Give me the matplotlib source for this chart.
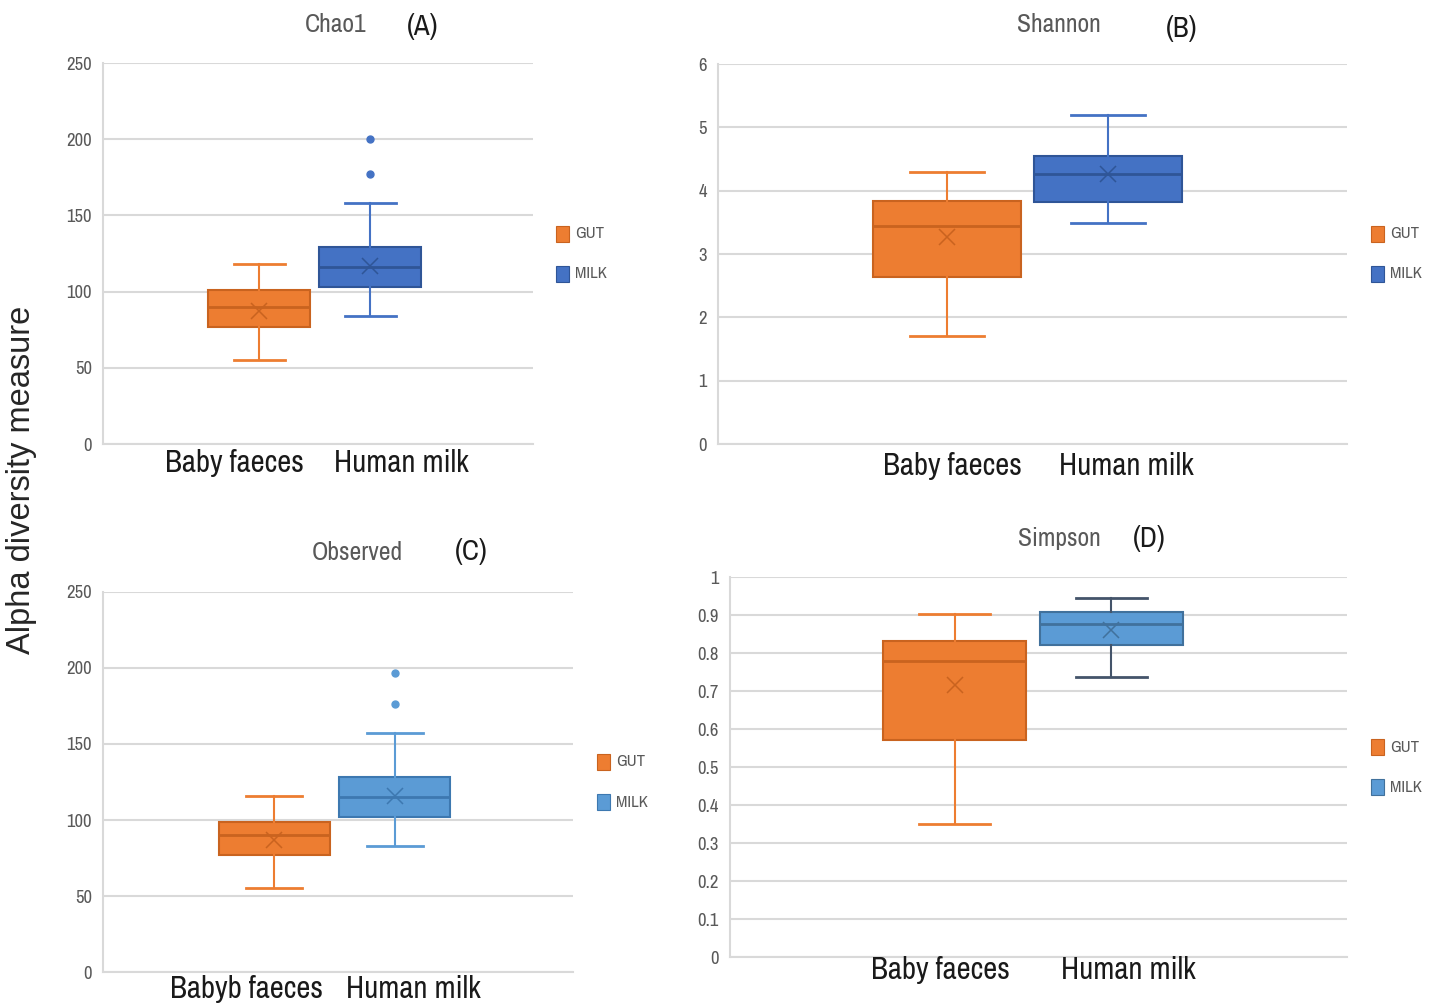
import matplotlib
matplotlib.use("Agg")
import matplotlib.pyplot as plt
from matplotlib import font_manager
from matplotlib.patches import Rectangle

W, H = 1438, 1005

# ---- data ----
series = ["GUT", "MILK"]

chao1_q1 = [77, 103]
chao1_med = [90, 116]
chao1_q3 = [101, 129]
chao1_lo = [55, 84]
chao1_hi = [118, 158]
chao1_mean = [87, 116.5]
chao1_fliers = [[], [177, 200]]

shannon_q1 = [2.63, 3.82]
shannon_med = [3.44, 4.26]
shannon_q3 = [3.84, 4.55]
shannon_lo = [1.71, 3.49]
shannon_hi = [4.30, 5.20]
shannon_mean = [3.27, 4.26]
shannon_fliers = [[], []]

observed_q1 = [77, 102]
observed_med = [90, 115]
observed_q3 = [99, 128]
observed_lo = [55, 83]
observed_hi = [116, 157]
observed_mean = [87, 116]
observed_fliers = [[], [176, 197]]

simpson_q1 = [0.57, 0.82]
simpson_med = [0.78, 0.876]
simpson_q3 = [0.832, 0.908]
simpson_lo = [0.35, 0.737]
simpson_hi = [0.903, 0.945]
simpson_mean = [0.716, 0.86]
simpson_fliers = [[], []]

chao1_ticks = [0, 50, 100, 150, 200, 250]
shannon_ticks = [0, 1, 2, 3, 4, 5, 6]
simpson_ticks = [0, 0.1, 0.2, 0.3, 0.4, 0.5, 0.6, 0.7, 0.8, 0.9, 1]
simpson_ticklabels = ["0", "0.1", "0.2", "0.3", "0.4", "0.5", "0.6", "0.7", "0.8", "0.9", "1"]

ORANGE = "#ED7D31"
ORANGE_D = "#C9631F"
BLUE = "#4472C4"
BLUE_D = "#2F5597"
LBLUE = "#5B9BD5"
LBLUE_D = "#3D78B0"
GRID = "#D9D9D9"
TICKC = "#595959"

# pick a narrow face if one is around, else Arial-like Liberation Sans
names = sorted({f.name for f in font_manager.fontManager.ttflist})
narrow = [n for n in names if "Narrow" in n or "Condensed" in n]
FONT = [narrow[0]] if narrow else []
FONT += ["Liberation Sans", "DejaVu Sans"]
SCALE = 1.12 if narrow else 1.0

fig = plt.figure(figsize=(W / 100, H / 100), dpi=100)


def px_axes(x0, y0, x1, y1):
    # pixel box (top-left origin) -> figure fraction
    return fig.add_axes([x0 / W, 1 - y1 / H, (x1 - x0) / W, (y1 - y0) / H])


def panel(rect, q1, med, q3, lo, hi, mean, fliers, ticks, ticklabels,
          colors, edges, whisk, centers, bw, title, letter, title_xy, letter_xy,
          cats, cat_xy, leg_xy):
    ax = px_axes(*rect)
    for i in range(2):
        st = dict(q1=q1[i], med=med[i], q3=q3[i], whislo=lo[i],
                  whishi=hi[i], mean=mean[i], fliers=fliers[i])
        ax.bxp([st], positions=[centers[i]], widths=bw, patch_artist=True,
               showmeans=True, manage_ticks=False,
               boxprops=dict(facecolor=colors[i], edgecolor=edges[i], linewidth=1.5),
               medianprops=dict(color=edges[i], linewidth=2),
               whiskerprops=dict(color=whisk[i], linewidth=1.5),
               capprops=dict(color=whisk[i], linewidth=2),
               meanprops=dict(marker="x", markeredgecolor=edges[i], markersize=11,
                              markeredgewidth=1.1),
               flierprops=dict(marker="o", markerfacecolor=colors[i],
                               markeredgecolor=colors[i], markersize=5))
    ax.set_xlim(0, 1)
    ax.set_ylim(ticks[0], ticks[-1])
    ax.set_yticks(ticks)
    ax.set_yticklabels(ticklabels, fontfamily=FONT, fontsize=12 * SCALE, color=TICKC)
    ax.tick_params(axis="y", length=0, pad=8)
    ax.set_xticks([])
    ax.grid(axis="y", color=GRID, linewidth=1.5, zorder=0)
    ax.set_axisbelow(True)
    for s in ["top", "right"]:
        ax.spines[s].set_visible(False)
    for s in ["left", "bottom"]:
        ax.spines[s].set_color(GRID)
        ax.spines[s].set_linewidth(1.5)

    fig.text(title_xy[0] / W, 1 - title_xy[1] / H, title, ha="center", va="center",
             fontfamily=FONT, fontsize=16.5 * SCALE, color=TICKC)
    fig.text(letter_xy[0] / W, 1 - letter_xy[1] / H, letter, ha="center", va="center",
             fontfamily=FONT, fontsize=18.5 * SCALE, color="#1a1a1a")
    for lab, (cx, cy) in zip(cats, cat_xy):
        fig.text(cx / W, 1 - cy / H, lab, ha="center", va="center",
                 fontfamily=FONT, fontsize=19.8 * SCALE, color="#1a1a1a")
    lx, ly = leg_xy
    for i, name in enumerate(series):
        y = ly + i * 40
        fig.patches.append(Rectangle((lx / W, 1 - (y + 16) / H), 13 / W, 16 / H,
                                     transform=fig.transFigure, facecolor=colors[i],
                                     edgecolor=edges[i], linewidth=0.8))
        fig.text((lx + 19) / W, 1 - (y + 8) / H, name, ha="left", va="center",
                 fontfamily=FONT, fontsize=10.8 * SCALE, color=TICKC)
    return ax


panel((103, 63, 533, 444), chao1_q1, chao1_med, chao1_q3, chao1_lo, chao1_hi,
      chao1_mean, chao1_fliers, chao1_ticks, [str(t) for t in chao1_ticks],
      [ORANGE, BLUE], [ORANGE_D, BLUE_D], [ORANGE, BLUE], [0.363, 0.621], 0.237,
      "Chao1", "(A)", (336, 25), (423, 27),
      ["Baby faeces", "Human milk"], [(234, 463), (401, 463)], (556, 226))

panel((718, 64, 1347, 444), shannon_q1, shannon_med, shannon_q3, shannon_lo, shannon_hi,
      shannon_mean, shannon_fliers, shannon_ticks, [str(t) for t in shannon_ticks],
      [ORANGE, BLUE], [ORANGE_D, BLUE_D], [ORANGE, BLUE], [0.364, 0.620], 0.234,
      "Shannon", "(B)", (1059, 25), (1182, 29),
      ["Baby faeces", "Human milk"], [(952, 466), (1126, 466)], (1371, 226))

panel((103, 592, 573, 972), observed_q1, observed_med, observed_q3, observed_lo, observed_hi,
      observed_mean, observed_fliers, chao1_ticks, [str(t) for t in chao1_ticks],
      [ORANGE, LBLUE], [ORANGE_D, LBLUE_D], [ORANGE, LBLUE], [0.364, 0.621], 0.236,
      "Observed", "(C)", (357, 553), (471, 551),
      ["Babyb faeces", "Human milk"], [(246, 989), (413, 989)], (597, 754))

panel((730, 577, 1347, 957), simpson_q1, simpson_med, simpson_q3, simpson_lo, simpson_hi,
      simpson_mean, simpson_fliers, simpson_ticks, simpson_ticklabels,
      [ORANGE, LBLUE], [ORANGE_D, "#41719C"], [ORANGE, "#44546A"], [0.364, 0.618], 0.232,
      "Simpson", "(D)", (1059, 538), (1149, 538),
      ["Baby faeces", "Human milk"], [(940, 970), (1128, 970)], (1371, 739))

fig.text(22 / W, 1 - 480 / H, "Alpha diversity measure", rotation=90, ha="center",
         va="center", fontfamily=["Liberation Sans", "DejaVu Sans"], fontsize=23.5,
         color="#262626")

fig.savefig("out.png", dpi=100, facecolor="white")
